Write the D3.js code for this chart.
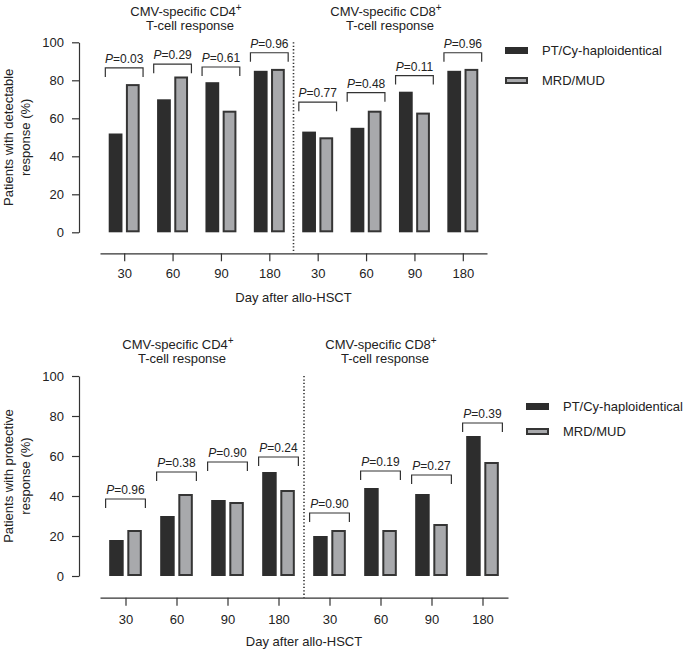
<!DOCTYPE html>
<html lang="en">
	<head>
		<meta charset="utf-8">
		<title>CMV-specific T-cell responses</title>
		<style type="text/css">
			body {
				margin: 0;
				background-color: white;
			}
			svg {
				font-family: "Liberation Sans", Arial, Helvetica, sans-serif;
				fill: #222;
			}
			.axis path,
			.axis line {
				fill: none;
				stroke: #333;
				stroke-width: 1.2px;
			}
			.axis text {
				font-size: 13px;
				fill: #222;
			}
			.title, .ylabel, .xlabel, .legend text {
				font-size: 13px;
				fill: #222;
			}
			.pval {
				font-size: 12px;
				fill: #222;
			}
			.bracket {
				fill: none;
				stroke: #333;
				stroke-width: 1.2px;
			}
			.divider {
				stroke: #333;
				stroke-width: 1.6px;
				stroke-dasharray: 1.3, 2.1;
			}
			.haplo {
				fill: #2d2d2d;
			}
			.mrd {
				fill: #a8a9ac;
				stroke: #353535;
				stroke-width: 2px;
			}
		</style>
	</head>
	<body>
	<script type="text/javascript" src="https://cdnjs.cloudflare.com/ajax/libs/d3/7.8.5/d3.min.js"></script>
	<script type="text/javascript">

		// categories
		var days = ["30", "60", "90", "180"];
		var subsets = ["CD4", "CD8"];
		var groups = ["PT/Cy-haploidentical", "MRD/MUD"];
		var yTicks = [0, 20, 40, 60, 80, 100];

		// top panel: detectable response (%), CD4 days then CD8 days
		var detectHaplo = [52, 70, 79, 85, 53, 55, 74, 85];
		var detectMrd = [78, 82, 64, 86, 50, 64, 63, 86];
		var detectP = ["0.03", "0.29", "0.61", "0.96", "0.77", "0.48", "0.11", "0.96"];
		var detectBracket = [86.5, 88.5, 87, 94.5, 68.5, 73.5, 82.5, 94.5];

		// bottom panel: protective response (%)
		var protectHaplo = [18, 30, 38, 52, 20, 44, 41, 70];
		var protectMrd = [23, 41, 37, 43, 23, 23, 26, 57];
		var protectP = ["0.96", "0.38", "0.90", "0.24", "0.90", "0.19", "0.27", "0.39"];
		var protectBracket = [38.5, 52, 57, 59.5, 31.5, 52.5, 50.5, 76.5];

		var svg = d3.select("body")
			.append("svg")
			.attr("width", 685)
			.attr("height", 650);

		var keys = [];
		subsets.forEach(function(s) {
			days.forEach(function(d) { keys.push(s + "-" + d); });
		});

		function drawPanel(p) {
			var g = svg.append("g");

			var data = keys.map(function(k, i) {
				return { key: k, haplo: p.haplo[i], mrd: p.mrd[i], pv: p.pv[i], br: p.br[i] };
			});

			var x = d3.scalePoint()
				.domain(keys)
				.range(p.xRange)
				.padding(0.5);
			var step = x.step();

			var x1 = d3.scaleBand()
				.domain(["haplo", "mrd"])
				.range([-0.32 * step, 0.32 * step])
				.paddingInner(0.2);

			var y = d3.scaleLinear()
				.domain([0, 100])
				.range([p.yBottom, p.yTop]);

			// axes
			g.append("g")
				.attr("class", "y axis")
				.attr("transform", "translate(" + p.yAxisX + ",0)")
				.call(d3.axisLeft(y).tickValues(yTicks).tickSize(7).tickSizeOuter(0).tickPadding(8));

			g.append("g")
				.attr("class", "x axis")
				.attr("transform", "translate(0," + p.axisY + ")")
				.call(d3.axisBottom(x).tickSize(8).tickSizeOuter(0).tickPadding(p.tickPad)
					.tickFormat(function(k) { return k.split("-")[1]; }));

			// divider between CD4 and CD8
			var mid = (x(keys[3]) + x(keys[4])) / 2;
			g.append("line")
				.attr("class", "divider")
				.attr("x1", mid).attr("x2", mid)
				.attr("y1", p.yTop).attr("y2", p.axisY);

			// bars
			var bars = g.selectAll("g.pair")
				.data(data)
				.enter()
				.append("g")
				.attr("class", "pair")
				.attr("transform", function(d) { return "translate(" + x(d.key) + ",0)"; });

			bars.append("rect")
				.attr("class", "haplo")
				.attr("x", x1("haplo"))
				.attr("width", x1.bandwidth())
				.attr("y", function(d) { return y(d.haplo); })
				.attr("height", function(d) { return y(0) - y(d.haplo); });

			bars.append("rect")
				.attr("class", "mrd")
				.attr("x", x1("mrd") + 1)
				.attr("width", x1.bandwidth() - 2)
				.attr("y", function(d) { return y(d.mrd) + 1; })
				.attr("height", function(d) { return y(0) - y(d.mrd) - 2; });

			// p-value brackets
			var hw = 0.39 * step;
			bars.append("path")
				.attr("class", "bracket")
				.attr("d", function(d) {
					var by = y(d.br);
					return "M" + (-hw) + "," + (by + 9) + "V" + by + "H" + hw + "V" + (by + 9);
				});

			var pt = bars.append("text")
				.attr("class", "pval")
				.attr("text-anchor", "middle")
				.attr("y", function(d) { return y(d.br) - 5; });
			pt.append("tspan").style("font-style", "italic").text("P");
			pt.append("tspan").text(function(d) { return "=" + d.pv; });

			// panel titles
			subsets.forEach(function(s, i) {
				var t = g.append("text")
					.attr("class", "title")
					.attr("text-anchor", "middle")
					.attr("x", p.titleX[i] - 4)
					.attr("y", p.titleY);
				t.append("tspan").text("CMV-specific " + s);
				t.append("tspan").attr("dy", -5).style("font-size", "10px").text("+");

				g.append("text")
					.attr("class", "title")
					.attr("text-anchor", "middle")
					.attr("x", p.titleX[i])
					.attr("y", p.titleY + 14)
					.text("T-cell response");
			});

			// y label (two lines)
			var cy = (p.yTop + p.yBottom) / 2;
			p.ylabel.forEach(function(line, i) {
				g.append("text")
					.attr("class", "ylabel")
					.attr("text-anchor", "middle")
					.attr("transform", "translate(" + (12.5 + i * 17) + "," + cy + ") rotate(-90)")
					.text(line);
			});

			// x label
			g.append("text")
				.attr("class", "xlabel")
				.attr("text-anchor", "middle")
				.attr("x", (p.xRange[0] + p.xRange[1]) / 2)
				.attr("y", p.labelY)
				.text("Day after allo-HSCT");

			// legend
			var lg = g.append("g").attr("class", "legend");
			groups.forEach(function(name, i) {
				var ly = p.legend.y + i * p.legend.gap;
				lg.append("rect")
					.attr("class", i === 0 ? "haplo" : "mrd")
					.attr("x", p.legend.x + (i === 0 ? 0 : 1))
					.attr("y", ly + (i === 0 ? 0 : 1))
					.attr("width", i === 0 ? 23 : 21)
					.attr("height", i === 0 ? 7 : 5);
				lg.append("text")
					.attr("x", p.legend.tx)
					.attr("y", ly + 3.5)
					.attr("dy", "0.35em")
					.text(name);
			});
		}

		drawPanel({
			haplo: detectHaplo, mrd: detectMrd, pv: detectP, br: detectBracket,
			xRange: [100, 487], yTop: 42.3, yBottom: 232.3, yAxisX: 79,
			axisY: 253.3, tickPad: 7,
			titleX: [190, 390], titleY: 16,
			ylabel: ["Patients with detectable", "response (%)"],
			labelY: 301.5,
			legend: { x: 505, y: 47, gap: 30, tx: 542 }
		});

		drawPanel({
			haplo: protectHaplo, mrd: protectMrd, pv: protectP, br: protectBracket,
			xRange: [100, 508], yTop: 376, yBottom: 576, yAxisX: 79,
			axisY: 597.7, tickPad: 9,
			titleX: [182, 385], titleY: 349,
			ylabel: ["Patients with protective", "response (%)"],
			labelY: 646,
			legend: { x: 526, y: 403, gap: 25, tx: 563 }
		});

	</script>
	</body>
</html>
